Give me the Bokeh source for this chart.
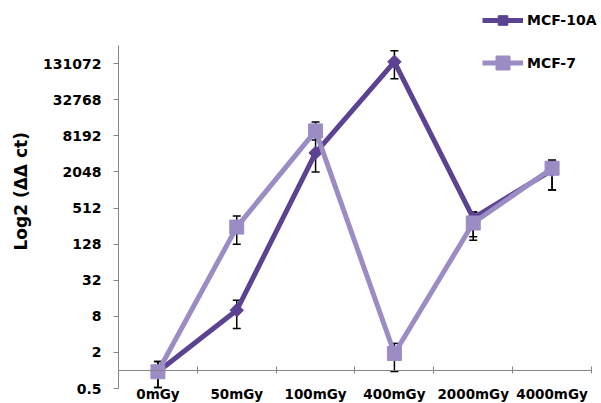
import math
from bokeh.plotting import figure
from bokeh.models import (ColumnDataSource, Range1d, FixedTicker, Whisker, TeeHead,
                          Legend, LegendItem, Title)
from bokeh.embed import file_html
from bokeh.resources import INLINE

# ---- data ----
categories = ["0mGy", "50mGy", "100mGy", "400mGy", "2000mGy", "4000mGy"]
mcf10a = [0.95, 10.1, 4260, 141000, 348, 2200]
mcf10a_upper = [1.41, 14.8, 8900, 215000, 440, 3100]
mcf10a_lower = [0.52, 5.0, 2048, 73600, 170, 1024]
mcf7 = [0.95, 246, 9900, 1.92, 288, 2360]
mcf7_upper = [1.41, 376, 14000, 2.83, 440, 3250]
mcf7_lower = [0.52, 128, 7000, 0.96, 148, 1024]
ytick_values = [0.5, 2, 8, 32, 128, 512, 2048, 8192, 32768, 131072]
ytick_labels = ["0.5", "2", "8", "32", "128", "512", "2048", "8192", "32768", "131072"]
y_min, y_max = 0.5, 262144

# ---- styles / layout ----
DARK = "#5B4392"
LIGHT = "#9C8CC4"
AXIS = "#868686"
FONT = "DejaVu Sans"
HEADROOM_OCTAVES = 2.5      # empty space above the axis (room for the legend)
FOOTROOM_OCTAVES = 0.831    # room below the axis for the category labels
X_RIGHT_PAD = 0.127         # room right of the last category

xs = list(range(len(categories)))

p = figure(width=601, height=403,
           x_range=Range1d(-0.5, len(categories) - 0.5 + X_RIGHT_PAD),
           y_range=Range1d(y_min * 2 ** (-FOOTROOM_OCTAVES), y_max * 2 ** HEADROOM_OCTAVES),
           y_axis_type="log",
           output_backend="svg", toolbar_location=None,
           min_border_left=118, min_border_right=0,
           min_border_top=0, min_border_bottom=0)
p.outline_line_color = None
p.grid.visible = False
p.background_fill_color = "white"
p.border_fill_color = "white"

src10a = ColumnDataSource(dict(x=xs, y=mcf10a, upper=mcf10a_upper, lower=mcf10a_lower))
src7 = ColumnDataSource(dict(x=xs, y=mcf7, upper=mcf7_upper, lower=mcf7_lower))

for src in (src10a, src7):
    w = Whisker(base="x", upper="upper", lower="lower", source=src, dimension="height",
                line_color="black", line_width=1.5,
                upper_head=TeeHead(size=8, line_color="black", line_width=1.5),
                lower_head=TeeHead(size=8, line_color="black", line_width=1.5))
    p.add_layout(w)

l1 = p.line("x", "y", source=src10a, line_color=DARK, line_width=5)
s1 = p.scatter("x", "y", source=src10a, marker="square", angle=math.pi / 4, size=9.5,
               fill_color=DARK, line_color=DARK)
l2 = p.line("x", "y", source=src7, line_color=LIGHT, line_width=5)
s2 = p.scatter("x", "y", source=src7, marker="square", size=14,
               fill_color=LIGHT, line_color=LIGHT)

# ---- y axis ----
p.yaxis.bounds = (y_min, y_max)
p.yaxis.ticker = FixedTicker(ticks=ytick_values)
p.yaxis.major_label_overrides = {v: l for v, l in zip(ytick_values, ytick_labels)}
p.yaxis.axis_line_color = AXIS
p.yaxis.major_tick_line_color = AXIS
p.yaxis.major_tick_out = 5
p.yaxis.major_tick_in = 0
p.yaxis.minor_tick_line_color = None
p.yaxis.major_label_standoff = 12
p.yaxis.major_label_text_font = FONT
p.yaxis.major_label_text_font_style = "bold"
p.yaxis.major_label_text_font_size = "14px"
p.yaxis.major_label_text_color = "black"

# y-axis title as a left-side title, so that it can sit off-centre like the reference
ytitle = Title(text="Log2 (ΔΔ ct)", align="left", offset=153, vertical_align="middle",
               standoff=18, text_font=FONT, text_font_style="bold",
               text_font_size="17px", text_color="black")
p.add_layout(ytitle, "left")

# ---- x axis (crosses at y = 1) ----
p.xaxis.bounds = (-0.5, len(categories) - 0.5)
p.xaxis.ticker = FixedTicker(ticks=xs, minor_ticks=[i + 0.5 for i in xs])
p.xaxis.major_label_overrides = {i: c for i, c in enumerate(categories)}
p.xaxis.fixed_location = 1
p.xaxis.axis_line_color = AXIS
p.xaxis.major_tick_line_color = None
p.xaxis.major_tick_in = 0
p.xaxis.major_tick_out = 0
p.xaxis.minor_tick_line_color = AXIS
p.xaxis.minor_tick_in = 4
p.xaxis.minor_tick_out = 3
p.xaxis.major_label_standoff = 13
p.xaxis.major_label_text_font = FONT
p.xaxis.major_label_text_font_style = "bold"
p.xaxis.major_label_text_font_size = "13.5px"
p.xaxis.major_label_text_color = "black"

# ---- legends ----
def make_legend(label, rends, gh, loc):
    return Legend(items=[LegendItem(label=label, renderers=rends)], location=loc,
                  glyph_width=41, glyph_height=gh, label_standoff=4,
                  padding=0, margin=0, spacing=0,
                  border_line_color=None, background_fill_alpha=0,
                  label_text_font=FONT, label_text_font_style="bold",
                  label_text_font_size="14px", label_text_color="black")

p.add_layout(make_legend("MCF-10A", [l1, s1], 24, (364, 371)))
p.add_layout(make_legend("MCF-7", [l2, s2], 35, (364, 323)))

open("out.html", "w").write(file_html(p, INLINE))
